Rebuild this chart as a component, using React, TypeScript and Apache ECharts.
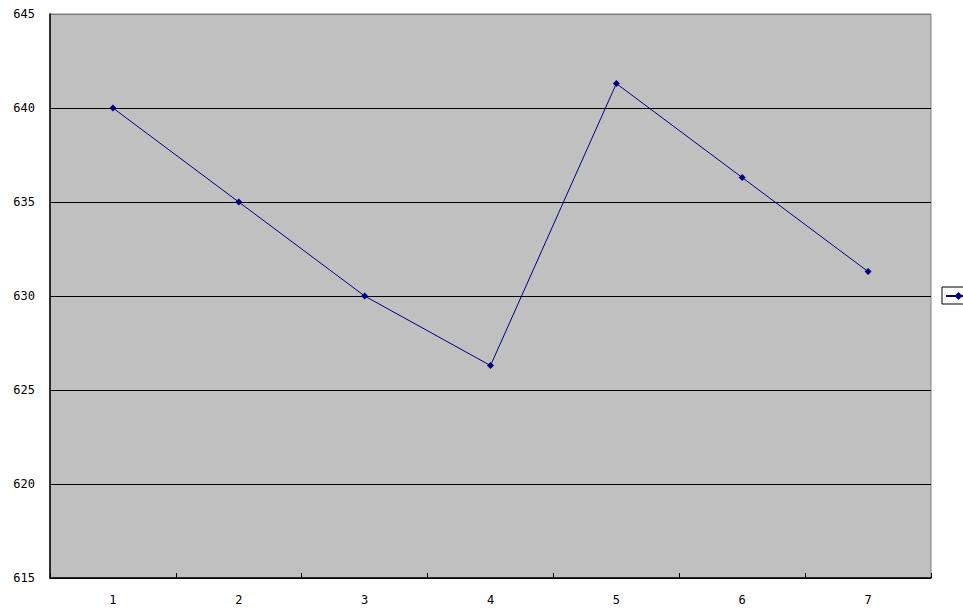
import React, { useEffect, useRef } from "react";
import * as echarts from "echarts";

const categories = ["1", "2", "3", "4", "5", "6", "7"];
const values = [640, 635, 630, 626.3, 641.3, 636.3, 631.3];
const seriesName = "系列1";

export default function App() {
  const ref = useRef<HTMLDivElement>(null);
  useEffect(() => {
    if (!ref.current) return;
    const chart = echarts.init(ref.current, undefined, { renderer: "svg" });
    const font = "'DejaVu Sans Mono', monospace";
    chart.setOption({
      animation: false,
      backgroundColor: "#ffffff",
      grid: {
        left: 50,
        top: 14,
        width: 881,
        height: 564,
        show: true,
        backgroundColor: "#c0c0c0",
        borderColor: "#808080",
        borderWidth: 1,
      },
      legend: {
        left: 942,
        top: 287,
        orient: "vertical",
        borderColor: "#000000",
        borderWidth: 1,
        padding: [4, 30, 4, 3],
        itemWidth: 25,
        itemHeight: 10,
        formatter: () => "",
        textStyle: { fontFamily: font, fontSize: 12, color: "#000" },
        data: [{ name: seriesName }],
      },
      xAxis: {
        type: "category",
        data: categories,
        boundaryGap: true,
        axisLine: { lineStyle: { color: "#000", width: 1.5 } },
        axisTick: { show: true, inside: true, length: 5, lineStyle: { color: "#000" } },
        axisLabel: { color: "#000", fontFamily: font, fontSize: 12, margin: 16 },
        splitLine: { show: false },
      },
      yAxis: {
        type: "value",
        min: 615,
        max: 645,
        interval: 5,
        axisLine: { show: true, lineStyle: { color: "#000", width: 1.5 } },
        axisTick: { show: false },
        axisLabel: { color: "#000", fontFamily: font, fontSize: 12, margin: 15 },
        splitLine: {
          show: true,
          lineStyle: {
            color: ["#000", "#000", "#000", "#000", "#000", "#000", "#808080"],
            width: 1,
          },
        },
      },
      series: [
        {
          name: seriesName,
          type: "line",
          data: values,
          symbol: "diamond",
          symbolSize: 7,
          itemStyle: { color: "#000080" },
          lineStyle: { color: "#000080", width: 1 },
        },
      ],
    });
    return () => chart.dispose();
  }, []);
  return (
    <div
      ref={ref}
      style={{ position: "fixed", left: 0, top: 0, width: 963, height: 615 }}
    />
  );
}
